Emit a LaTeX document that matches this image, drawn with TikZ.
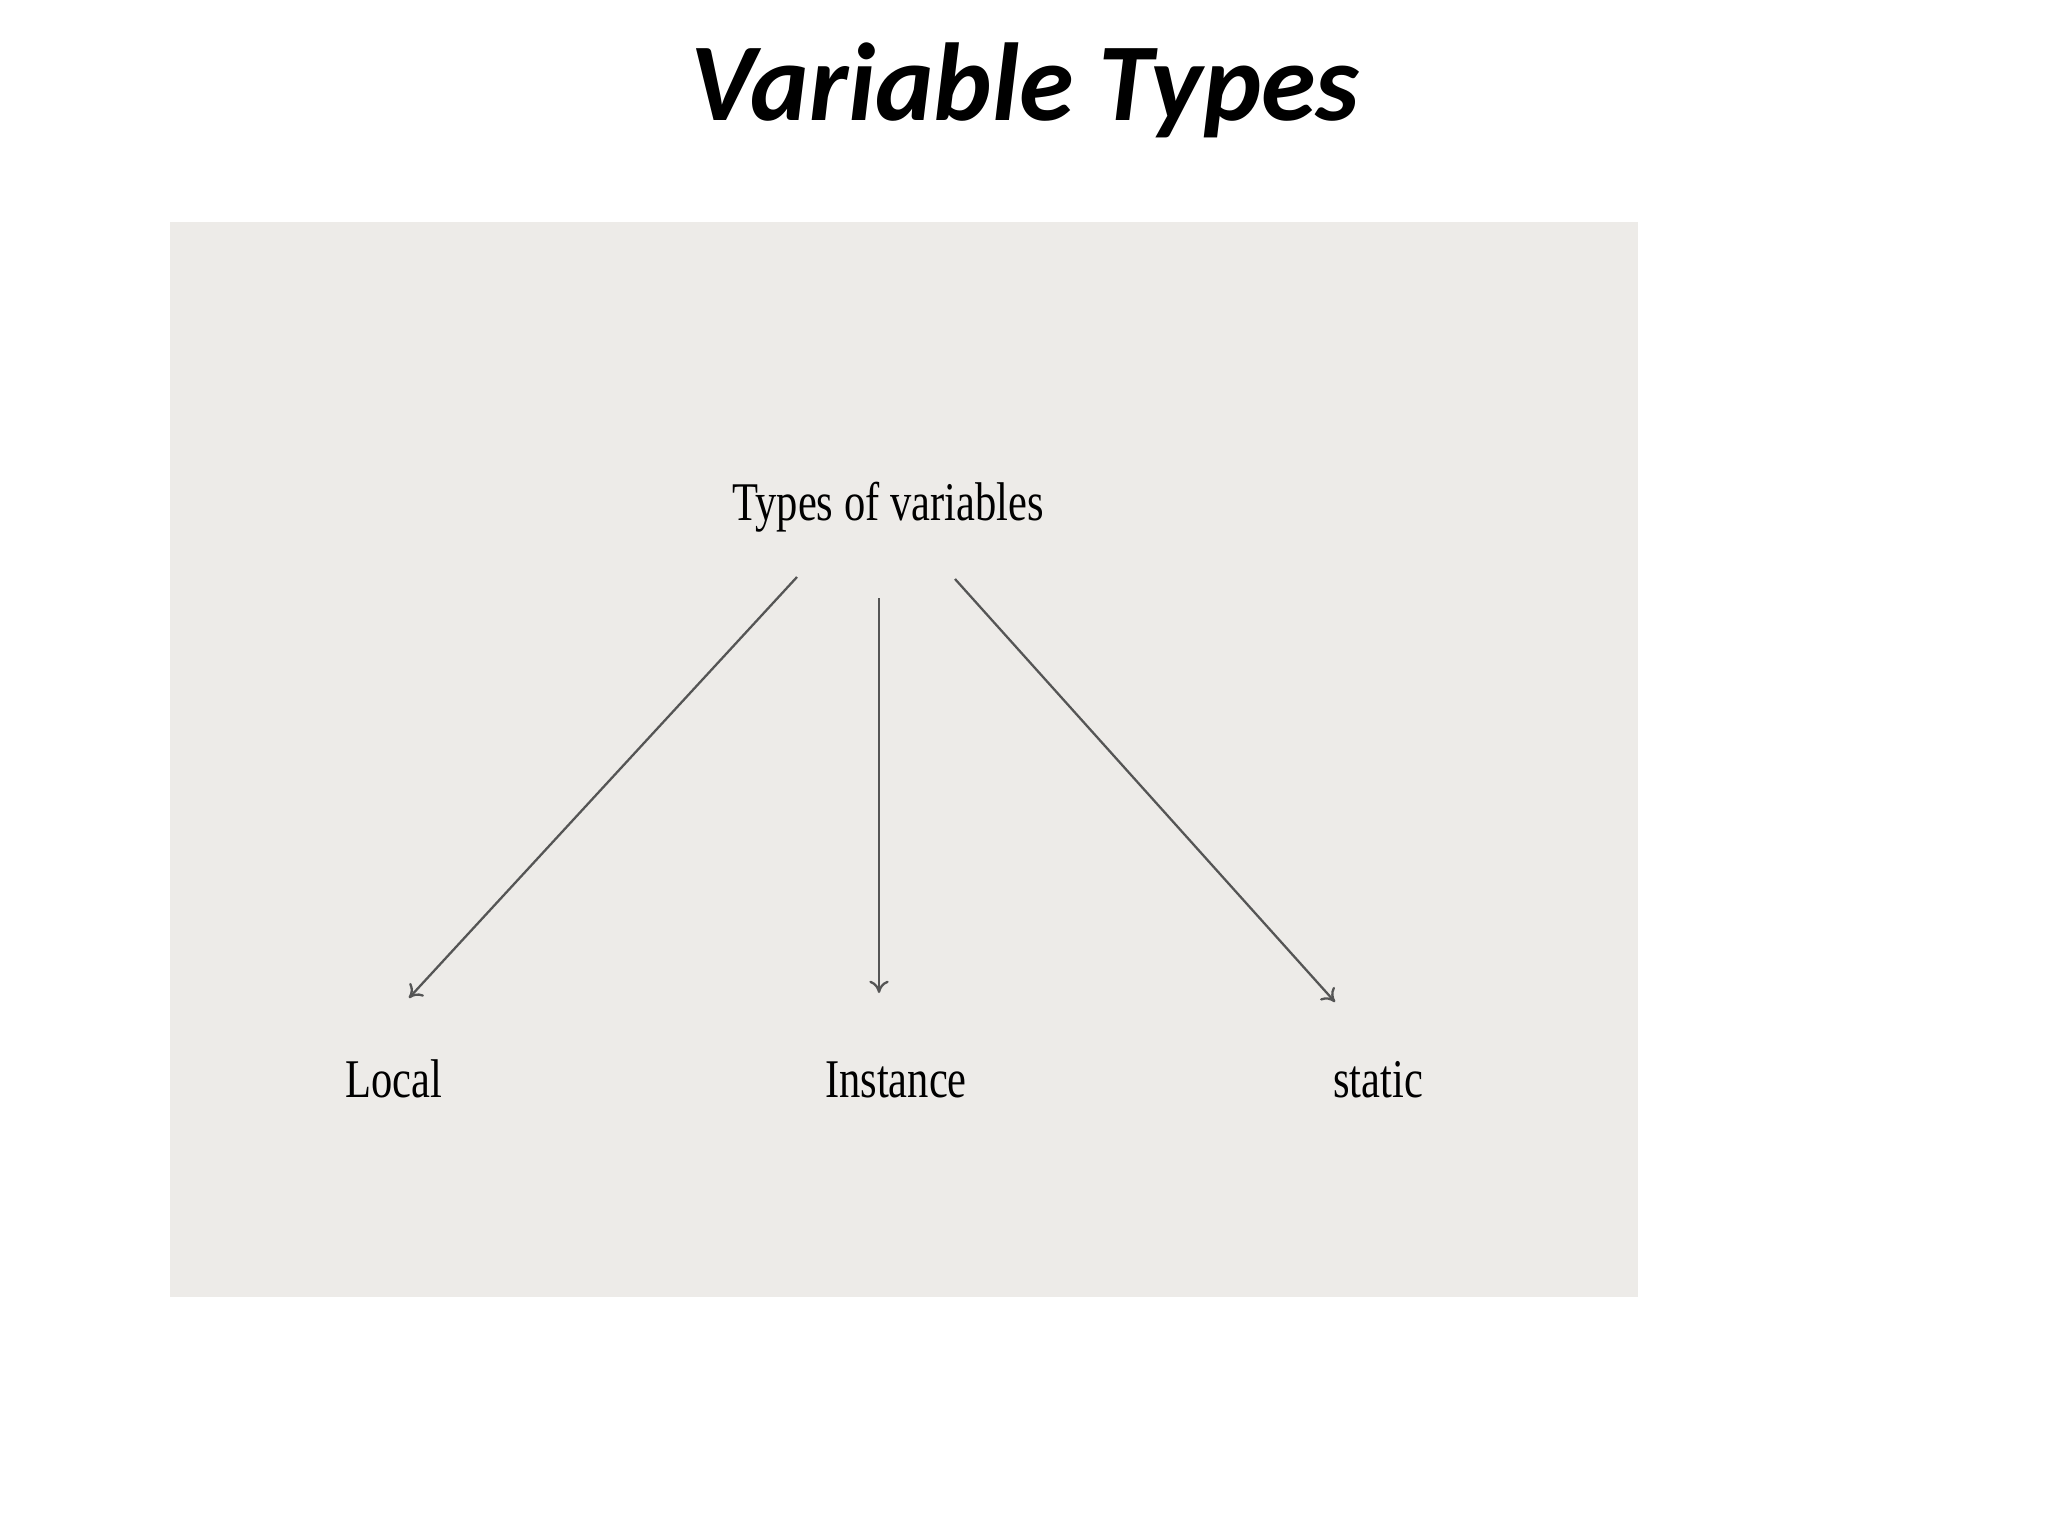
\documentclass[tikz,border=0pt]{standalone}
\usepackage{fontspec}
\setmainfont{Liberation Serif}
\newfontfamily\titlefont{Carlito}
\usepackage{tikz}
\usetikzlibrary{arrows.meta,positioning}
\definecolor{panelgray}{RGB}{237,235,232}
\definecolor{arrowgray}{RGB}{85,85,85}
\tikzset{
  lbl/.style={font=\fontsize{15.5}{18}\selectfont,xscale=0.78,anchor=base,text=black},
  branch/.style={-{To[length=3.5pt,width=5.5pt]},arrowgray,line width=0.65pt}
}

\begin{document}
\begin{tikzpicture}[x=0.01cm,y=-0.01cm]
            \useasboundingbox (0,0) rectangle (2048,1536);
            \fill[white] (0,0) rectangle (2048,1536);
            \fill[panelgray] (170,222) rectangle (1638,1297);

            \node (title) at (1025,120) [anchor=base,font=\titlefont\bfseries\itshape\fontsize{31.5}{38}\selectfont] {Variable Types};

            \node[lbl] (types) at (888,520) {Types of variables};
            \node[lbl] (local) at (394,1097) {Local};
            \node[lbl] (instance) at (896,1097) {Instance};
            \node[lbl] (static) at (1378,1097) {static};

            \coordinate (l0) at (797,577);
            \coordinate (l1) at (409,998);
            \coordinate (m0) at (879,598);
            \coordinate (m1) at (879,993);
            \coordinate (r0) at (955,579);
            \coordinate (r1) at (1335,1002);

            \draw[branch] (l0)--(l1);
            \draw[branch] (m0)--(m1);
            \draw[branch] (r0)--(r1);
        \end{tikzpicture}
\end{document}
